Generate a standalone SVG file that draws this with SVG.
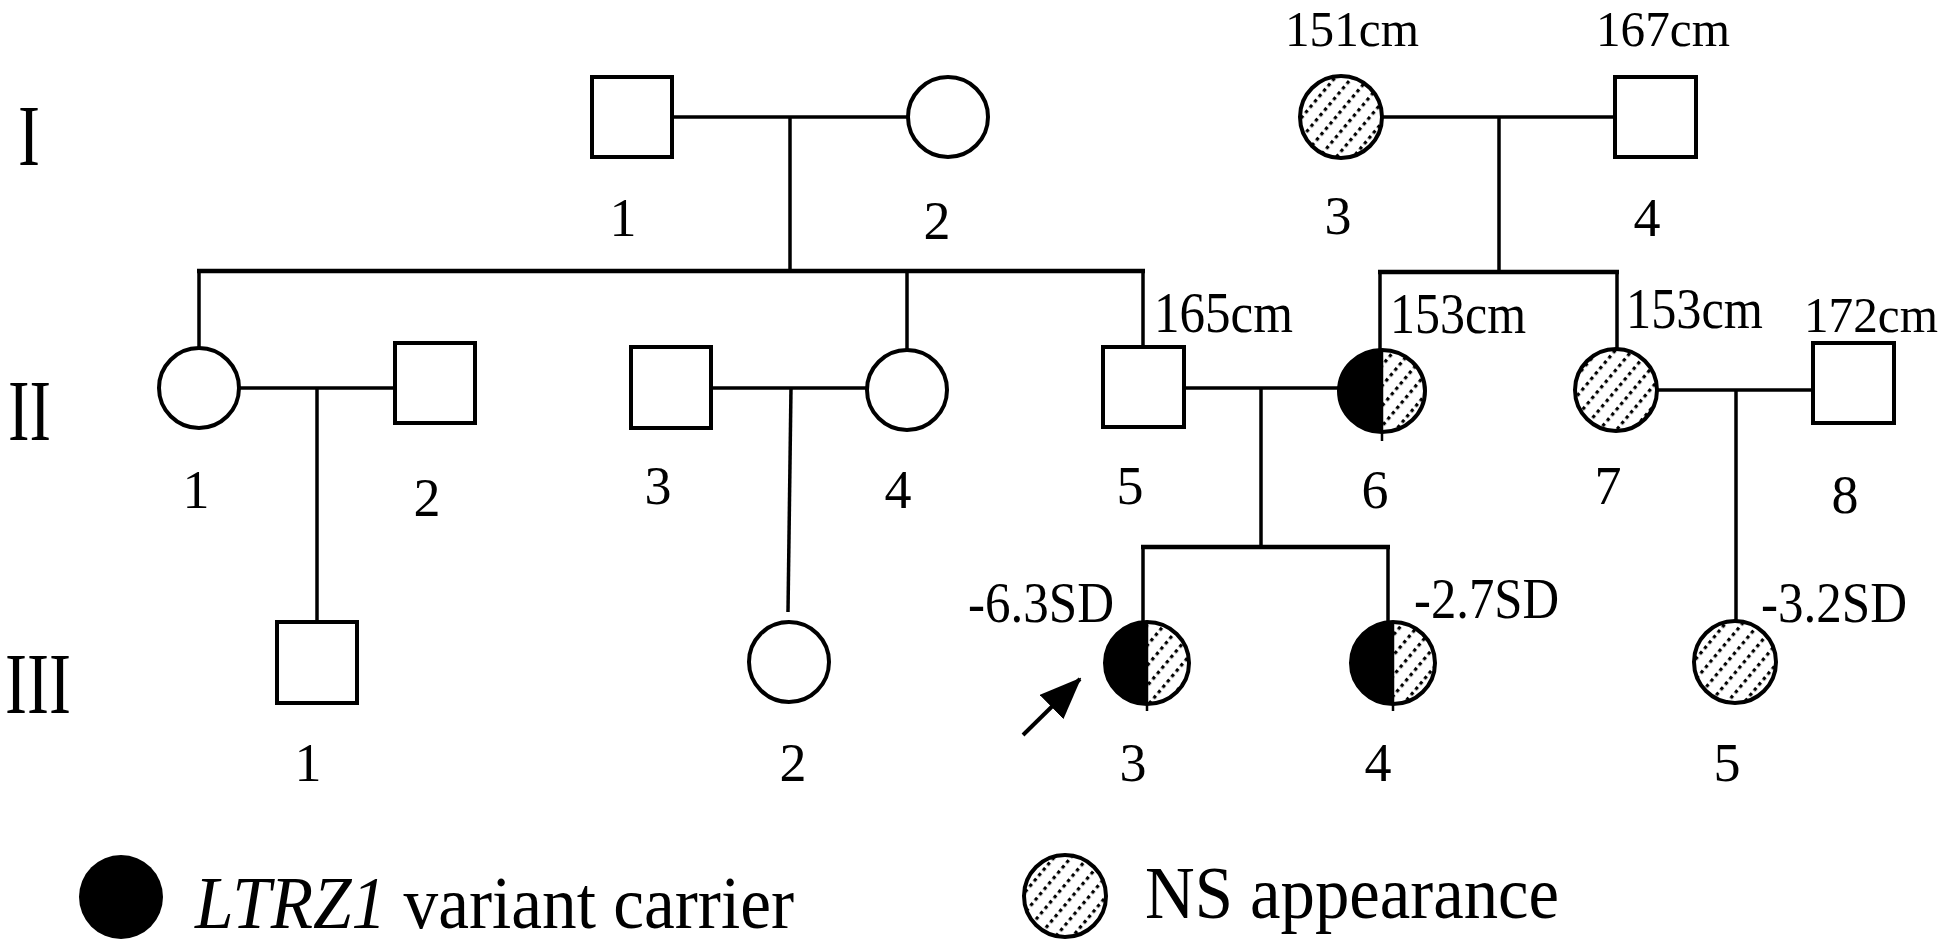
<svg xmlns="http://www.w3.org/2000/svg" width="1946" height="947" viewBox="0 0 1946 947">
<defs>
<pattern id="hatch" width="13" height="7" patternUnits="userSpaceOnUse" patternTransform="rotate(40)">
<rect x="5" y="0" width="3.2" height="3.4" fill="#000"/>
</pattern>
<marker id="arrowhead" markerUnits="userSpaceOnUse" markerWidth="42" markerHeight="34" refX="40" refY="17" orient="auto">
<path d="M0,0 L42,17 L0,34 Z" fill="#000"/>
</marker>
</defs>
<style>
.sym{fill:#fff;stroke:#000;stroke-width:4}
.ns{fill:url(#hatch);stroke:#000;stroke-width:4}
.outline{fill:none;stroke:#000;stroke-width:4}
.black{fill:#000;stroke:none}
.div{stroke:#000;stroke-width:2.5}
.conn line{stroke:#000;stroke-width:3.5;fill:none}
.conn line.sib{stroke-width:4.5}
text{font-family:"Liberation Serif","Times New Roman",serif;fill:#000}
.num{font-size:54px;text-anchor:middle}
.lab{font-size:56px}
.top{font-size:50px}
.gen{font-size:86px}
.leg{font-size:74px}
</style>
<rect width="1946" height="947" fill="#fff"/>

<g id="connectors" class="conn">
<line x1="672" y1="117" x2="908" y2="117"/>
<line x1="790" y1="117" x2="790" y2="271"/>
<line x1="1382" y1="117" x2="1615" y2="117"/>
<line x1="1499" y1="117" x2="1499" y2="272"/>
<line class="sib" x1="197" y1="271" x2="1145" y2="271"/>
<line x1="199" y1="271" x2="199" y2="348"/>
<line x1="907" y1="271" x2="907" y2="350"/>
<line x1="1143" y1="271" x2="1143" y2="347"/>
<line class="sib" x1="1378" y1="272" x2="1619" y2="272"/>
<line x1="1380" y1="272" x2="1380" y2="350"/>
<line x1="1617" y1="272" x2="1617" y2="349"/>
<line x1="239" y1="388" x2="395" y2="388"/>
<line x1="317" y1="388" x2="317" y2="620"/>
<line x1="711" y1="388" x2="867" y2="388"/>
<line x1="791" y1="388" x2="788" y2="612"/>
<line x1="1184" y1="388" x2="1340" y2="388"/>
<line x1="1261" y1="388" x2="1261" y2="547"/>
<line x1="1657" y1="390" x2="1813" y2="390"/>
<line x1="1736" y1="390" x2="1736" y2="621"/>
<line class="sib" x1="1141" y1="547" x2="1390" y2="547"/>
<line x1="1143" y1="547" x2="1143" y2="622"/>
<line x1="1388" y1="547" x2="1388" y2="622"/>
<line x1="1023" y1="735" x2="1080" y2="679" marker-end="url(#arrowhead)" style="stroke-width:4"/>
</g>

<g id="generations">
<text class="gen" x="18" y="165" textLength="22" lengthAdjust="spacingAndGlyphs">I</text>
<text class="gen" x="8" y="440" textLength="43" lengthAdjust="spacingAndGlyphs">II</text>
<text class="gen" x="5" y="713" textLength="66" lengthAdjust="spacingAndGlyphs">III</text>
</g>

<g id="I-1"><rect class="sym" x="592" y="77" width="80" height="80"/><text class="num" x="623" y="236">1</text></g>
<g id="I-2"><circle class="sym" cx="948" cy="117" r="40"/><text class="num" x="937" y="239">2</text></g>
<g id="I-3"><circle class="ns" cx="1341" cy="117" r="41"/><text class="num" x="1338" y="234">3</text><text class="top" x="1285" y="46" textLength="134" lengthAdjust="spacingAndGlyphs">151cm</text></g>
<g id="I-4"><rect class="sym" x="1615" y="77" width="81" height="80"/><text class="num" x="1647" y="236">4</text><text class="top" x="1596" y="46" textLength="134" lengthAdjust="spacingAndGlyphs">167cm</text></g>

<g id="II-1"><circle class="sym" cx="199" cy="388" r="40"/><text class="num" x="196" y="508">1</text></g>
<g id="II-2"><rect class="sym" x="395" y="343" width="80" height="80"/><text class="num" x="427" y="516">2</text></g>
<g id="II-3"><rect class="sym" x="631" y="347" width="80" height="81"/><text class="num" x="658" y="504">3</text></g>
<g id="II-4"><circle class="sym" cx="907" cy="390" r="40"/><text class="num" x="898" y="508">4</text></g>
<g id="II-5"><rect class="sym" x="1103" y="347" width="81" height="80"/><text class="num" x="1130" y="504">5</text><text class="lab" x="1154" y="332" textLength="139" lengthAdjust="spacingAndGlyphs">165cm</text></g>
<g id="II-6">
<ellipse cx="1382" cy="391" rx="43" ry="41" fill="url(#hatch)"/>
<path class="black" d="M1382,350 A43,41 0 0 0 1382,432 Z"/>
<line class="div" x1="1382" y1="350" x2="1382" y2="441"/>
<ellipse class="outline" cx="1382" cy="391" rx="43" ry="41"/>
<text class="num" x="1375" y="508">6</text><text class="lab" x="1390" y="333" textLength="136" lengthAdjust="spacingAndGlyphs">153cm</text></g>
<g id="II-7"><circle class="ns" cx="1616" cy="390" r="41"/><text class="num" x="1608" y="504">7</text><text class="lab" x="1626" y="328" textLength="137" lengthAdjust="spacingAndGlyphs">153cm</text></g>
<g id="II-8"><rect class="sym" x="1813" y="343" width="81" height="80"/><text class="num" x="1845" y="513">8</text><text class="top" x="1804" y="332" textLength="134" lengthAdjust="spacingAndGlyphs">172cm</text></g>

<g id="III-1"><rect class="sym" x="277" y="622" width="80" height="81"/><text class="num" x="308" y="781">1</text></g>
<g id="III-2"><circle class="sym" cx="789" cy="662" r="40"/><text class="num" x="793" y="781">2</text></g>
<g id="III-3">
<ellipse cx="1147" cy="663" rx="42" ry="41" fill="url(#hatch)"/>
<path class="black" d="M1147,622 A42,41 0 0 0 1147,704 Z"/>
<line class="div" x1="1147" y1="622" x2="1147" y2="711"/>
<ellipse class="outline" cx="1147" cy="663" rx="42" ry="41"/>
<text class="num" x="1133" y="781">3</text><text class="lab" x="968" y="622" textLength="146" lengthAdjust="spacingAndGlyphs">-6.3SD</text></g>
<g id="III-4">
<ellipse cx="1393" cy="663" rx="42" ry="41" fill="url(#hatch)"/>
<path class="black" d="M1393,622 A42,41 0 0 0 1393,704 Z"/>
<line class="div" x1="1393" y1="622" x2="1393" y2="711"/>
<ellipse class="outline" cx="1393" cy="663" rx="42" ry="41"/>
<text class="num" x="1378" y="781">4</text><text class="lab" x="1414" y="618" textLength="145" lengthAdjust="spacingAndGlyphs">-2.7SD</text></g>
<g id="III-5"><circle class="ns" cx="1735" cy="662" r="41"/><text class="num" x="1727" y="781">5</text><text class="lab" x="1761" y="622" textLength="146" lengthAdjust="spacingAndGlyphs">-3.2SD</text></g>

<g id="legend-carrier">
<ellipse class="black" cx="121" cy="897" rx="42" ry="42"/>
<text class="leg" x="195" y="928" textLength="599" lengthAdjust="spacingAndGlyphs"><tspan font-style="italic">LTRZ1</tspan> variant carrier</text>
</g>
<g id="legend-ns">
<circle class="ns" cx="1065" cy="896" r="41"/>
<text class="leg" x="1145" y="918" textLength="414" lengthAdjust="spacingAndGlyphs">NS appearance</text>
</g>
</svg>
